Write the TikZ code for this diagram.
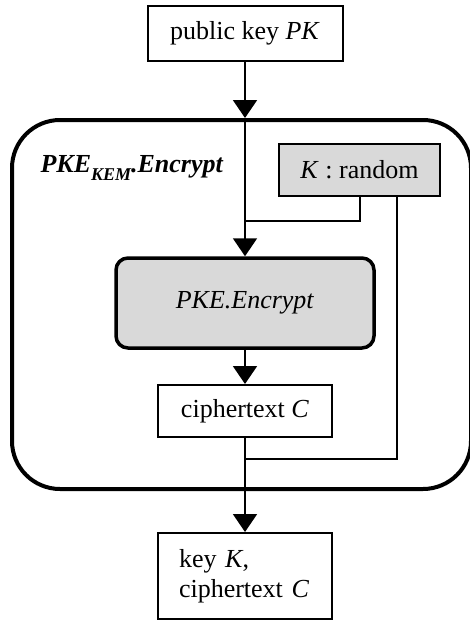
\documentclass[tikz,border=0pt]{standalone}
\usepackage{fontspec}
\setmainfont{Liberation Serif}
\usetikzlibrary{arrows.meta}
\begin{document}
\begin{tikzpicture}[x=1pt,y=-1pt,
  txt/.style={font=\fontsize{26}{30}\selectfont},
  box/.style={draw,line width=2pt,inner sep=0pt,txt},
  graybox/.style={box,fill=gray!30},
  conn/.style={line width=2pt},
  arr/.style={conn,-{Triangle[width=24pt,length=18pt]}}]
\useasboundingbox (0,0) rectangle (470,621);
\node[draw,line width=4pt,rounded corners=48pt,minimum width=459pt,minimum height=369pt] (outer) at (241.5,304.5) {};
\node[box,minimum width=195pt,minimum height=55pt] (pk) at (245,33.5) {public key \textit{PK}};
\node[anchor=base west,font=\fontsize{26}{30}\selectfont\bfseries\itshape] (title) at (37,172) {PKE\raisebox{-8pt}{\fontsize{18}{18}\selectfont KEM}.Encrypt};
\node[graybox,minimum width=161pt,minimum height=52pt] (krand) at (359.5,170) {\textit{K} : random};
\node[graybox,line width=3.5pt,rounded corners=12pt,minimum width=258pt,minimum height=90pt] (enc) at (245,303) {\textit{PKE.Encrypt}};
\node[box,minimum width=174pt,minimum height=52pt] (ct) at (245,411) {ciphertext \textit{C}};
\node[box,minimum width=174pt,minimum height=86pt,align=left,text width=132pt] (out) at (245,576) {key \textit{K},\\ciphertext \textit{C}};
\coordinate (top) at (pk.south |- outer.north);
\coordinate (j1) at (245,221);
\coordinate (j2) at (245,459);
\draw[arr] (pk.south) -- (top);
\draw[arr] (top) -- (enc.north);
\draw[conn] (krand.south) |- (j1);
\draw[conn] ([xshift=37.5pt]krand.south) |- (j2);
\draw[arr] (enc.south) -- (ct.north);
\draw[arr] (ct.south) -- (out.north);
\end{tikzpicture}
\end{document}
